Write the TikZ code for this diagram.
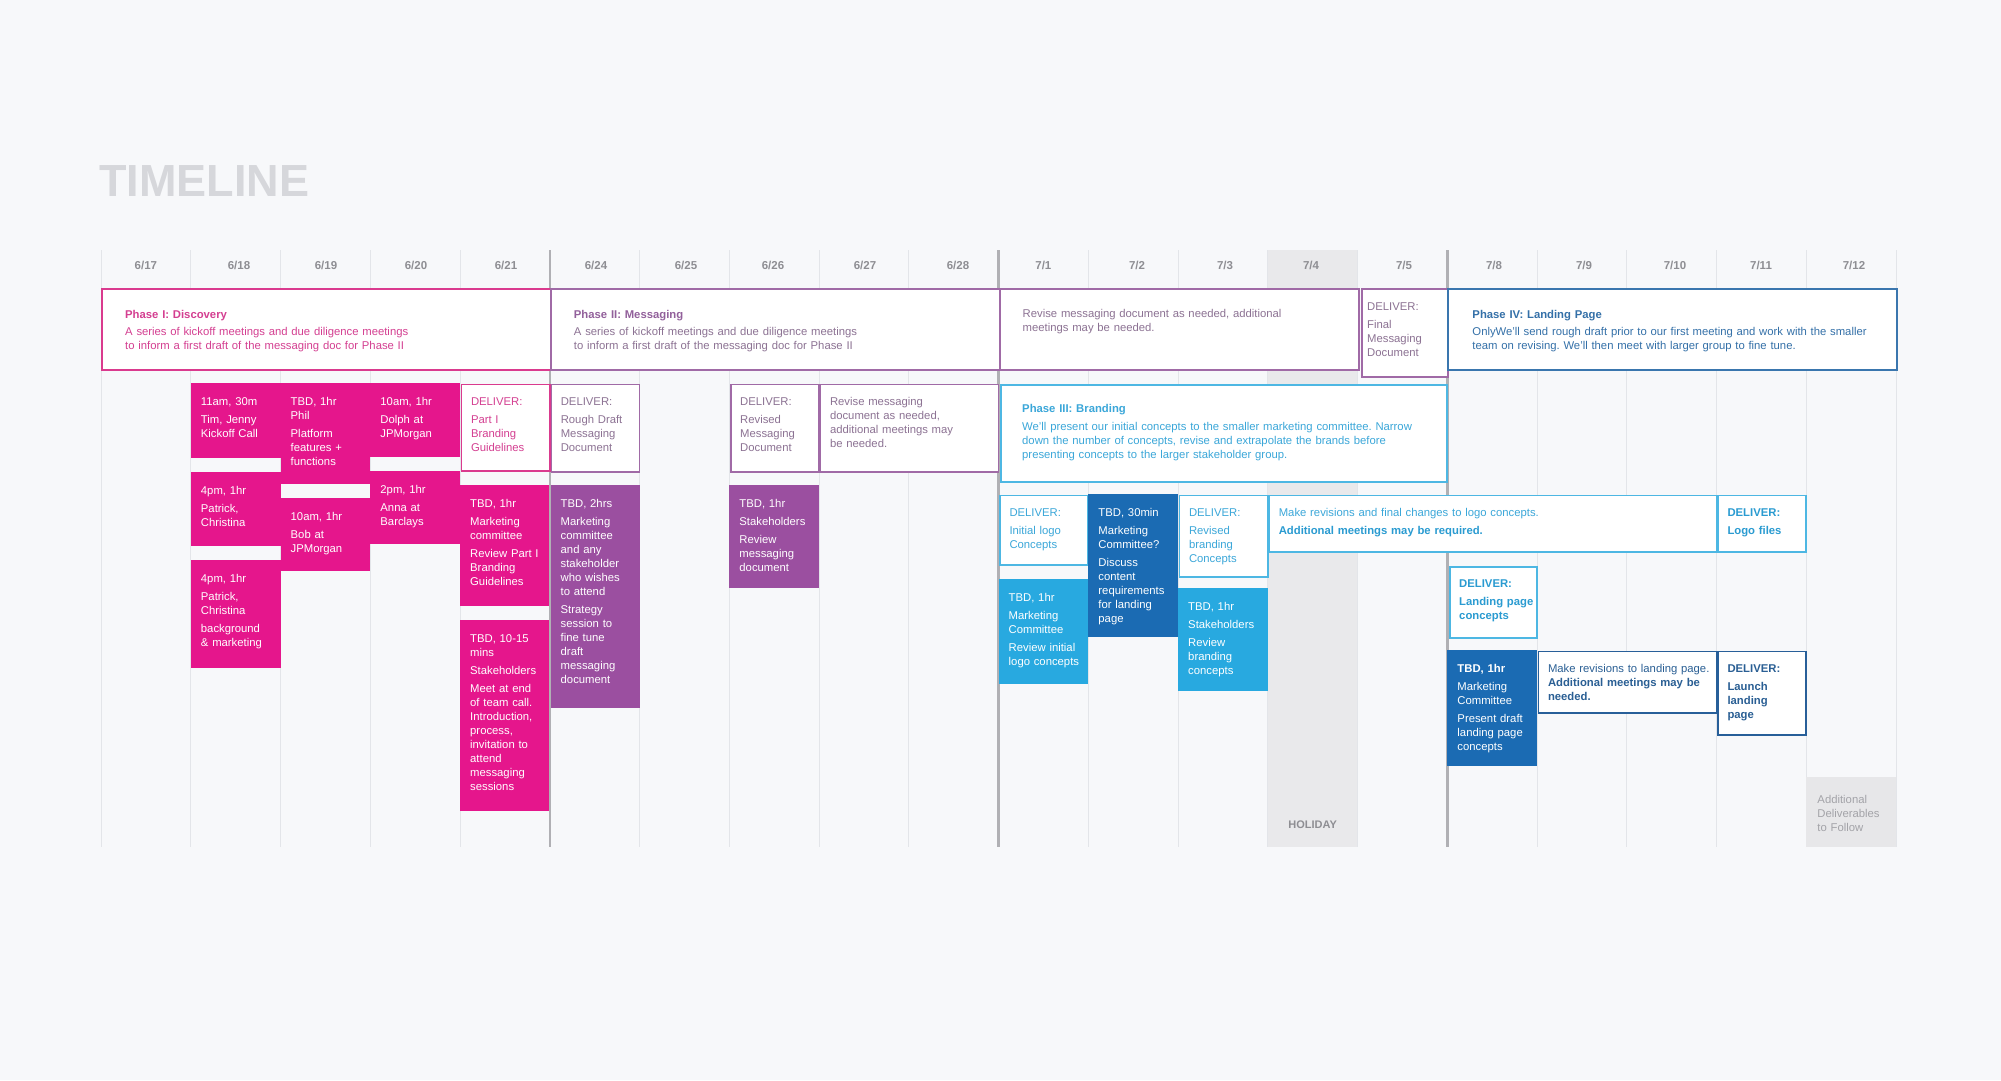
\documentclass[tikz,border=0pt]{standalone}
\usepackage{fontspec}
\setmainfont{Liberation Sans}
\usetikzlibrary{calc}
\frenchspacing
\definecolor{bg}{HTML}{F7F8FA}
\definecolor{gridc}{HTML}{E3E5E9}
\definecolor{weekc}{HTML}{B0B0B4}
\definecolor{holc}{HTML}{E9E9EB}
\definecolor{datec}{HTML}{8E8E93}
\definecolor{titlec}{HTML}{D6D7DB}
\definecolor{pinkF}{HTML}{E5168C}
\definecolor{pinkB}{HTML}{DA3A8E}
\definecolor{pinkT}{HTML}{D43F91}
\definecolor{purpF}{HTML}{9B4FA0}
\definecolor{purpB}{HTML}{A06AA6}
\definecolor{purpTitle}{HTML}{92609B}
\definecolor{purpT}{HTML}{8C7293}
\definecolor{lbF}{HTML}{28A9E0}
\definecolor{lbB}{HTML}{4DB7E3}
\definecolor{lbT}{HTML}{3BA7D9}
\definecolor{lbBold}{HTML}{2A9BD1}
\definecolor{dbF}{HTML}{1B6BB3}
\definecolor{dbB}{HTML}{285F99}
\definecolor{dbT}{HTML}{2A5F94}
\definecolor{pfourB}{HTML}{3A76AE}
\definecolor{pfourT}{HTML}{3470A8}
\definecolor{addF}{HTML}{E7E7E9}
\definecolor{addT}{HTML}{A3A3A8}
\newcommand\bx[8]{%
  \node[#2, anchor=north west, inner sep=0pt, minimum width={(#5)-(#3)}, minimum height={(#6)-(#4)}] (#1) at (#3,#4) {};
  \node[bt, text width={(#5)-(#3)-16}, #7] (#1t) at ([shift={(10,22)}]#1.north west) {#8};
}
\begin{document}
\begin{tikzpicture}[x=1pt,y=-1pt,
  bt/.style={anchor=base west, inner sep=0pt, align=left, font=\fontsize{11.3}{14}\selectfont},
  datelbl/.style={anchor=base, inner sep=0pt, text=datec, font=\fontsize{11.5}{14}\selectfont\bfseries},
  gridline/.style={draw=gridc, line width=1pt},
  weekline/.style={draw=weekc, line width=2.5pt},
  phasebox/.style={fill=white, line width=2pt},
  pinkbox/.style={fill=pinkF},
  purpbox/.style={fill=purpF},
  lbbox/.style={fill=lbF},
  dbbox/.style={fill=dbF},
  pinkline/.style={fill=white, draw=pinkB, line width=1.6pt},
  purpline/.style={fill=white, draw=purpB, line width=1.6pt},
  lbline/.style={fill=white, draw=lbB, line width=1.6pt},
  dbline/.style={fill=white, draw=dbB, line width=1.6pt},
  onfill/.style={text=white},
]
\useasboundingbox (0,0) rectangle (2001,1080);
\fill[bg] (0,0) rectangle (2001,1080);
% title
\node[anchor=base west, inner sep=0pt, text=titlec, font=\fontsize{45}{50}\selectfont\bfseries] (title) at (99,196) {TIMELINE};
% holiday column
\fill[holc] (1267.75,250) rectangle (1357.5,847);
% grid
\foreach \i in {0,1,2,3,4,6,7,8,9,11,12,13,14,16,17,18,19,20} {
  \draw[gridline] ({101+89.75*\i},250) -- ({101+89.75*\i},847);
}
\foreach \i in {5,10,15} {
  \draw[weekline] ({101+89.75*\i},250) -- ({101+89.75*\i},847);
}
% dates
\node[datelbl] (d0) at (145.875,269) {6/17};
\node[datelbl] (d1) at (239,269) {6/18};
\node[datelbl] (d2) at (326,269) {6/19};
\node[datelbl] (d3) at (416,269) {6/20};
\node[datelbl] (d4) at (506,269) {6/21};
\node[datelbl] (d5) at (596,269) {6/24};
\node[datelbl] (d6) at (686,269) {6/25};
\node[datelbl] (d7) at (773,269) {6/26};
\node[datelbl] (d8) at (865,269) {6/27};
\node[datelbl] (d9) at (958,269) {6/28};
\node[datelbl] (d10) at (1043.375,269) {7/1};
\node[datelbl] (d11) at (1137,269) {7/2};
\node[datelbl] (d12) at (1225,269) {7/3};
\node[datelbl] (d13) at (1311,269) {7/4};
\node[datelbl] (d14) at (1404,269) {7/5};
\node[datelbl] (d15) at (1494,269) {7/8};
\node[datelbl] (d16) at (1584,269) {7/9};
\node[datelbl] (d17) at (1675,269) {7/10};
\node[datelbl] (d18) at (1761,269) {7/11};
\node[datelbl] (d19) at (1854,269) {7/12};
% holiday label
\node[anchor=base, inner sep=0pt, text=datec, font=\fontsize{11}{14}\selectfont\bfseries] (hol) at (1312.6,828) {HOLIDAY};

% ---------- phase row ----------
\bx{phI}{phasebox, draw=pinkB}{101}{288}{549.75}{369}{text=pinkT, xshift=14pt, yshift=-8pt, text width=400}{\textbf{Phase I: Discovery}\\[3pt]A series of kickoff meetings and due diligence meetings\\to inform a first draft of the messaging doc for Phase II}
\bx{phII}{phasebox, draw=purpB}{549.75}{288}{998.5}{369}{text=purpT, xshift=14pt, yshift=-8pt, text width=400}{\textcolor{purpTitle}{\textbf{Phase II: Messaging}}\\[3pt]A series of kickoff meetings and due diligence meetings\\to inform a first draft of the messaging doc for Phase II}
\bx{revA}{phasebox, draw=purpB}{998.5}{288}{1357.5}{369}{text=purpT, xshift=14pt, yshift=-7pt, text width=320}{Revise messaging document as needed, additional\\meetings may be needed.}
\bx{finM}{purpline}{1361}{288}{1447}{376}{text=purpT, xshift=-4pt, text width=76}{DELIVER:\\[4pt]Final\\Messaging\\Document}
\bx{phIV}{phasebox, draw=pfourB}{1447.25}{288}{1896}{369}{text=pfourT, xshift=15pt, yshift=-8pt, text width=410}{\textbf{Phase IV: Landing Page}\\[3pt]OnlyWe’ll send rough draft prior to our first meeting and work with the smaller\\team on revising. We’ll then meet with larger group to fine tune.}

% ---------- week 1 ----------
\bx{bA}{pinkbox}{190.75}{383}{280.5}{458}{onfill}{11am, 30m\\[4pt]Tim, Jenny\\Kickoff Call}
\bx{bB}{pinkbox}{190.75}{472}{280.5}{546}{onfill}{4pm, 1hr\\[4pt]Patrick,\\Christina}
\bx{bC}{pinkbox}{190.75}{560}{280.5}{668}{onfill}{4pm, 1hr\\[4pt]Patrick,\\Christina\\[4pt]background\\\& marketing}
\bx{bD}{pinkbox}{280.5}{383}{370.25}{484}{onfill}{TBD, 1hr\\Phil\\[4pt]Platform\\features +\\functions}
\bx{bE}{pinkbox}{280.5}{498}{370.25}{571}{onfill}{10am, 1hr\\[4pt]Bob at\\JPMorgan}
\bx{bF}{pinkbox}{370.25}{383}{460}{457}{onfill}{10am, 1hr\\[4pt]Dolph at\\JPMorgan}
\bx{bG}{pinkbox}{370.25}{471}{460}{544}{onfill}{2pm, 1hr\\[4pt]Anna at\\Barclays}
\bx{bH}{pinkline}{460.8}{383.8}{548.9}{470}{text=pinkT}{DELIVER:\\[4pt]Part I\\Branding\\Guidelines}
\bx{bI}{pinkbox}{460}{485}{549}{606}{onfill}{TBD, 1hr\\[4pt]Marketing\\committee\\[4pt]Review Part I\\Branding\\Guidelines}
\bx{bJ}{pinkbox}{460}{620}{549}{811}{onfill}{TBD, 10-15\\mins\\[4pt]Stakeholders\\[4pt]Meet at end\\of team call.\\Introduction,\\process,\\invitation to\\attend\\messaging\\sessions}

% ---------- week 2 ----------
\bx{bK}{purpline}{550.6}{383.8}{638.7}{471}{text=purpT}{DELIVER:\\[4pt]Rough Draft\\Messaging\\Document}
\bx{bL}{purpbox}{550.5}{485}{639.5}{708}{onfill}{TBD, 2hrs\\[4pt]Marketing\\committee\\and any\\stakeholder\\who wishes\\to attend\\[4pt]Strategy\\session to\\fine tune\\draft\\messaging\\document}
\bx{bM}{purpline}{730}{383.8}{818.2}{471}{text=purpT}{DELIVER:\\[4pt]Revised\\Messaging\\Document}
\bx{bN}{purpbox}{729.25}{485}{819}{588}{onfill}{TBD, 1hr\\[4pt]Stakeholders\\[4pt]Review\\messaging\\document}
\bx{bO}{purpline}{819.8}{383.8}{997.7}{471}{text=purpT, text width=150}{Revise messaging\\document as needed,\\additional meetings may\\be needed.}

% ---------- week 3 ----------
\bx{phIII}{phasebox, draw=lbB}{1000}{384}{1446}{481}{text=lbT, xshift=12pt, yshift=-6pt, text width=410}{\textbf{Phase III: Branding}\\[4pt]We’ll present our initial concepts to the smaller marketing committee. Narrow\\down the number of concepts, revise and extrapolate the brands before\\presenting concepts to the larger stakeholder group.}
\bx{bP}{lbline}{999.3}{494.8}{1087.4}{564}{text=lbT}{DELIVER:\\[4pt]Initial logo\\Concepts}
\bx{bQ}{lbbox}{998.5}{579}{1088.25}{684}{onfill}{TBD, 1hr\\[4pt]Marketing\\Committee\\[4pt]Review initial\\logo concepts}
\bx{bR}{dbbox}{1088.25}{494}{1178}{637}{onfill}{TBD, 30min\\[4pt]Marketing\\Committee?\\[4pt]Discuss\\content\\requirements\\for landing\\page}
\bx{bS}{lbline}{1178.8}{494.8}{1266.9}{576}{text=lbT}{DELIVER:\\[4pt]Revised\\branding\\Concepts}
\bx{bT}{lbbox}{1178}{588}{1267.75}{691}{onfill}{TBD, 1hr\\[4pt]Stakeholders\\[4pt]Review\\branding\\concepts}
\bx{bU}{lbline}{1268.6}{494.8}{1715.7}{551}{text=lbT, text width=400}{Make revisions and final changes to logo concepts.\\[4pt]\textcolor{lbBold}{\textbf{Additional meetings may be required.}}}

% ---------- week 4 ----------
\bx{bV}{lbline}{1717.3}{494.8}{1805.4}{551}{text=lbBold, font=\fontsize{11.3}{14}\selectfont\bfseries}{DELIVER:\\[4pt]Logo files}
\bx{bW}{lbline}{1449}{566}{1536.2}{637}{text=lbBold, yshift=1pt, text width=76, font=\fontsize{11.3}{14}\selectfont\bfseries}{DELIVER:\\[4pt]Landing page\\concepts}
\bx{bX}{dbbox}{1447.25}{650}{1537}{766}{onfill}{\textbf{TBD, 1hr}\\[4pt]Marketing\\Committee\\[4pt]Present draft\\landing page\\concepts}
\bx{bY}{dbline}{1537.8}{650.8}{1715.7}{712}{text=dbT, text width=165}{Make revisions to landing page.\\\textbf{Additional meetings may be}\\\textbf{needed.}}
\bx{bZ}{dbline}{1717.3}{650.8}{1805.4}{734}{text=dbT, font=\fontsize{11.3}{14}\selectfont\bfseries}{DELIVER:\\[4pt]Launch\\landing\\page}
\bx{add}{fill=addF}{1806.25}{777}{1896}{847}{text=addT, xshift=1pt, yshift=-4pt}{Additional\\Deliverables\\to Follow}
\end{tikzpicture}
\end{document}
